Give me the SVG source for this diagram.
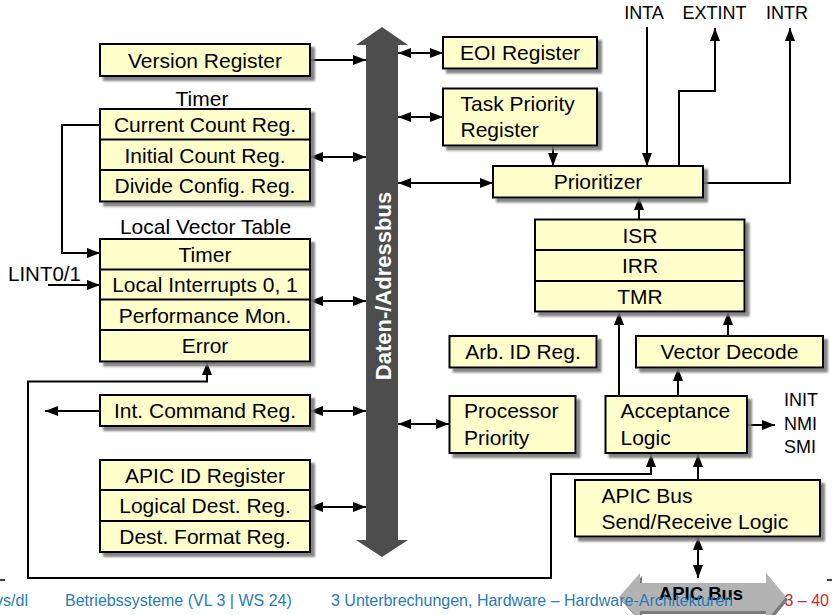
<svg xmlns="http://www.w3.org/2000/svg" width="832" height="615" viewBox="0 0 832 615">
<style>
.box{fill:#ffffcc;stroke:#000;stroke-width:2;filter:url(#sh)}
.dv{stroke:#000;stroke-width:2}
.t{font-family:"Liberation Sans",Arial,Helvetica,sans-serif;font-size:21px;fill:#000}
.s{font-family:"Liberation Sans",Arial,Helvetica,sans-serif;font-size:18px;fill:#000}
.c{text-anchor:middle}
.ln{stroke:#000;stroke-width:2;fill:none}
.a1{marker-end:url(#ah)}
.a2{marker-start:url(#ah);marker-end:url(#ah)}
.f{font-family:"Liberation Sans",Arial,Helvetica,sans-serif;font-size:16px;fill:#2a7ab5}
</style>
<defs>
<filter id="sh" x="-10%" y="-10%" width="130%" height="140%">
<feDropShadow dx="4" dy="4" stdDeviation="1" flood-color="#777" flood-opacity="0.9"/>
</filter>
<marker id="ah" viewBox="0 0 13 10" refX="13" refY="5" markerWidth="13" markerHeight="10" markerUnits="userSpaceOnUse" orient="auto-start-reverse">
<path d="M0,0 L13,5 L0,10 z" fill="#000"/>
</marker>
</defs>
<rect width="832" height="615" fill="#fff"/>

<g id="bus">
<polygon points="382,27 408,45 398,45 398,540 408,540 382,557 356,540 366,540 366,45 356,45" fill="#4d4d4d"/>
<text transform="translate(390.5,286) rotate(-90)" text-anchor="middle" font-family="Liberation Sans,Arial,sans-serif" font-size="22" font-weight="bold" fill="#fff">Daten-/Adressbus</text>
</g>

<g id="apicbus">
<polygon points="621,600 642,576 642,586 768,586 768,576 788,600 768,624 768,614 642,614 642,624" fill="#7a7a7a"/>
<polygon points="619,597 640,573 640,583 766,583 766,573 786,597 766,621 766,611 640,611 640,621" fill="#b3b3b3"/>
<text x="701" y="600" text-anchor="middle" font-family="Liberation Sans,Arial,sans-serif" font-size="18.5" font-weight="bold" fill="#000">APIC Bus</text>
</g>

<g id="connectors">
<path class="ln a1" d="M310,60 H366"/>
<path class="ln a2" d="M310,157 H366"/>
<path class="ln a2" d="M310,301 H366"/>
<path class="ln a2" d="M310,411 H366"/>
<path class="ln a1" d="M100,411 H45"/>
<path class="ln a2" d="M310,507 H366"/>
<path class="ln a1" d="M100,125 H62 V253 H100"/>
<path class="ln a1" d="M48,285 H100"/>
<path class="ln a2" d="M207,362 V381.5 H28 V578 H551 V474 H651 V454"/>
<path class="ln a2" d="M398,53 H443"/>
<path class="ln a2" d="M398,117 H443"/>
<path class="ln a2" d="M398,183 H493"/>
<path class="ln a2" d="M398,424 H449"/>
<path class="ln a1" d="M553,146 V166"/>
<path class="ln a1" d="M647,27 V166"/>
<path class="ln a1" d="M679,166 V91 H715 V28"/>
<path class="ln a1" d="M703,183 H790 V28"/>
<path class="ln a1" d="M639,219 V197"/>
<path class="ln a1" d="M619,396 V312"/>
<path class="ln a1" d="M728,336 V312"/>
<path class="ln a1" d="M678,396 V368"/>
<path class="ln a1" d="M747,425 H775"/>
<path class="ln a1" d="M698,480 V454"/>
<path class="ln a2" d="M698,537 V578"/>
</g>

<g id="version">
<rect class="box" x="100" y="44" width="210" height="32"/>
<text class="t c" x="205" y="67.5">Version Register</text>
</g>

<g id="timer">
<text class="t c" x="202" y="105.5">Timer</text>
<rect class="box" x="100" y="109" width="210" height="92.5"/>
<line class="dv" x1="100" y1="139.5" x2="310" y2="139.5"/>
<line class="dv" x1="100" y1="170" x2="310" y2="170"/>
<text class="t c" x="205" y="132">Current Count Reg.</text>
<text class="t c" x="205" y="162.5">Initial Count Reg.</text>
<text class="t c" x="205" y="193">Divide Config. Reg.</text>
</g>

<g id="lvt">
<text class="t c" x="205.5" y="234">Local Vector Table</text>
<rect class="box" x="100" y="239" width="210" height="122.5"/>
<line class="dv" x1="100" y1="269.5" x2="310" y2="269.5"/>
<line class="dv" x1="100" y1="299.5" x2="310" y2="299.5"/>
<line class="dv" x1="100" y1="330" x2="310" y2="330"/>
<text class="t c" x="205" y="262">Timer</text>
<text class="t c" x="205" y="292">Local Interrupts 0, 1</text>
<text class="t c" x="205" y="322.5">Performance Mon.</text>
<text class="t c" x="205" y="353">Error</text>
</g>

<g id="lint">
<text x="8" y="281" font-family="Liberation Sans,Arial,sans-serif" font-size="20.5" fill="#000">LINT0/1</text>
</g>

<g id="intcmd">
<rect class="box" x="100" y="395" width="210" height="31"/>
<text class="t c" x="205" y="418">Int. Command Reg.</text>
</g>

<g id="apicid">
<rect class="box" x="100" y="460" width="210" height="92"/>
<line class="dv" x1="100" y1="490" x2="310" y2="490"/>
<line class="dv" x1="100" y1="521" x2="310" y2="521"/>
<text class="t c" x="205" y="482.5">APIC ID Register</text>
<text class="t c" x="205" y="513">Logical Dest. Reg.</text>
<text class="t c" x="205" y="544">Dest. Format Reg.</text>
</g>

<g id="eoi">
<rect class="box" x="443" y="37" width="154" height="31.5"/>
<text class="t c" x="520" y="60">EOI Register</text>
</g>

<g id="tpr">
<rect class="box" x="443" y="88.5" width="154" height="57"/>
<text class="t" x="460.5" y="111">Task Priority</text>
<text class="t" x="460.5" y="136.5">Register</text>
</g>

<g id="prioritizer">
<rect class="box" x="493" y="166" width="210" height="31.5"/>
<text class="t c" x="598" y="189">Prioritizer</text>
</g>

<g id="sigs">
<text class="s c" x="644" y="19">INTA</text>
<text class="s c" x="714.5" y="19">EXTINT</text>
<text class="s c" x="787" y="19">INTR</text>
<text class="s" x="784" y="406">INIT</text>
<text class="s" x="784" y="430">NMI</text>
<text class="s" x="784" y="453">SMI</text>
</g>

<g id="isr">
<rect class="box" x="535" y="219.5" width="209.5" height="92"/>
<line class="dv" x1="535" y1="250" x2="744.5" y2="250"/>
<line class="dv" x1="535" y1="281" x2="744.5" y2="281"/>
<text class="t c" x="640" y="242.5">ISR</text>
<text class="t c" x="640" y="273">IRR</text>
<text class="t c" x="640" y="304">TMR</text>
</g>

<g id="arbid">
<rect class="box" x="449.5" y="336" width="147" height="31.5"/>
<text class="t c" x="523" y="359">Arb. ID Reg.</text>
</g>

<g id="vecdec">
<rect class="box" x="636" y="336" width="187" height="31.5"/>
<text class="t c" x="729.5" y="359">Vector Decode</text>
</g>

<g id="procprio">
<rect class="box" x="449.5" y="396" width="126" height="57"/>
<text class="t" x="464" y="418">Processor</text>
<text class="t" x="464" y="445">Priority</text>
</g>

<g id="accept">
<rect class="box" x="605.5" y="396" width="141.5" height="57"/>
<text class="t" x="620.5" y="418">Acceptance</text>
<text class="t" x="620.5" y="444.5">Logic</text>
</g>

<g id="sendrecv">
<rect class="box" x="575" y="480" width="245" height="56.5"/>
<text class="t" x="601.5" y="502.5">APIC Bus</text>
<text class="t" x="601.5" y="528.5">Send/Receive Logic</text>
</g>

<g id="footer">
<line x1="0" y1="580" x2="5" y2="580" stroke="#000" stroke-width="1.5"/>
<line x1="827" y1="580" x2="832" y2="580" stroke="#000" stroke-width="1.5"/>
<text class="f" x="28" y="605.5" text-anchor="end">vs/dl</text>
<text class="f" x="65" y="605.5">Betriebssysteme (VL 3 | WS 24)</text>
<text class="f" x="331" y="605.5">3 Unterbrechungen, Hardware – Hardware-Architekturen</text>
<text class="f" x="829" y="605.5" text-anchor="end" style="fill:#c8283c">3 – 40</text>
</g>
</svg>
